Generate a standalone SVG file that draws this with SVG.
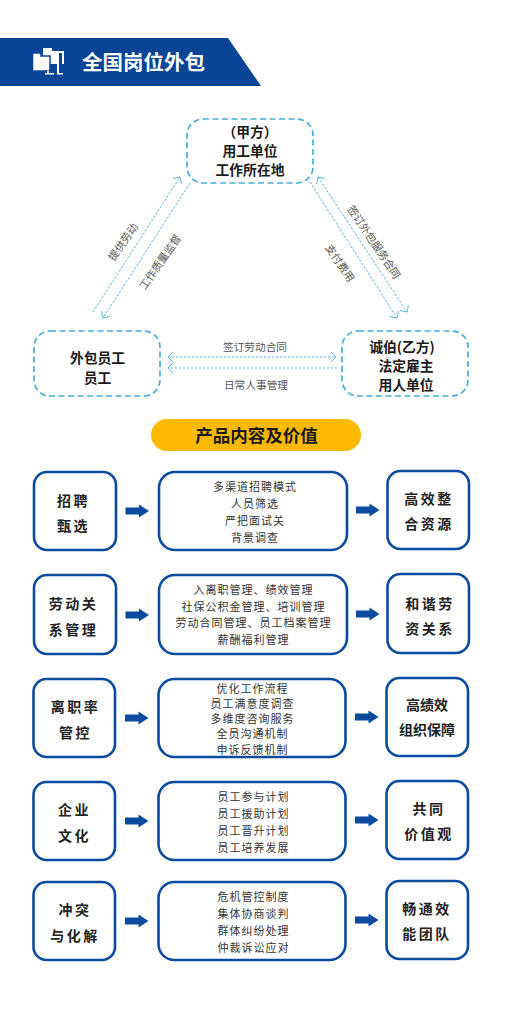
<svg xmlns="http://www.w3.org/2000/svg" width="512" height="1024" viewBox="0 0 512 1024">
<defs>
<marker id="a" markerUnits="userSpaceOnUse" markerWidth="12" markerHeight="14" refX="9" refY="7" orient="auto-start-reverse"><path d="M4 2L9 7L4 12" fill="none" stroke="#5cb4e4" stroke-width="1"/></marker>
<path id="ar" d="M0 -3.500H13.500V-6.500L23.500 0L13.500 6.500V3.500H0Z" fill="#0a4a9f"/>
</defs>
<style>
text{font-family:"Noto Sans CJK SC","Liberation Sans",sans-serif;text-anchor:middle}
.d{fill:#fff;stroke:#45ade0;stroke-width:1.700;stroke-dasharray:6 3.500}
.h{font-size:13.800px;font-weight:700;fill:#1a1a1a}
.l{font-size:10.700px;fill:#555}
.c{fill:none;stroke:#5cb4e4;stroke-width:1;stroke-dasharray:2.500 1.500}
.b{fill:#fff;stroke:#0a4a9f;stroke-width:2.600}
.s{font-size:14px;font-weight:700;fill:#222;letter-spacing:2.500px}
.n{letter-spacing:0}
.m{font-size:11px;fill:#333;letter-spacing:1px}
</style>
<rect width="512" height="1024" fill="#fff"/>
<g id="banner">
<path d="M0 38H228L261 86H0Z" fill="#0a4497"/>
<g id="icon">
<path d="M43 48H52V51H64V64H43Z" fill="#fff"/>
<path d="M57 64H59V73H63V74.500H57Z" fill="#fff"/>
<path d="M32.500 53H41V56H50V71H32.500Z" fill="#fff" stroke="#0a4497" stroke-width="1.500"/>
<path d="M59 53H62V64H59Z" fill="#0a4497"/>
<path d="M47 71H49V73H54V74.500H45V73H47Z" fill="#fff"/>
</g>
<text x="143.500" y="70" font-size="20.500" font-weight="700" fill="#fff">全国岗位外包</text>
</g>
<g id="connectors">
<path class="c" marker-end="url(#a)" d="M93 312L180 177"/>
<path class="c" marker-end="url(#a)" d="M190 183L103 318"/>
<path class="c" marker-start="url(#a)" marker-end="url(#a)" d="M318 177L407 312"/>
<path class="c" marker-end="url(#a)" d="M310 182L397 318"/>
<path class="c" marker-start="url(#a)" marker-end="url(#a)" d="M168 357H336"/>
<path class="c" marker-end="url(#a)" d="M337 368H168"/>
<text class="l" transform="translate(123 242) rotate(-55)" y="4">提供劳动</text>
<text class="l" transform="translate(160 262) rotate(-55)" y="4">工作质量监督</text>
<text class="l" transform="translate(374 242) rotate(56)" y="4">签订外包服务合同</text>
<text class="l" transform="translate(340 263) rotate(56)" y="4">支付费用</text>
<text class="l" x="255" y="351">签订劳动合同</text>
<text class="l" x="256" y="389">日常人事管理</text>
</g>
<g id="n1"><rect class="d" x="187" y="119" width="126" height="64" rx="16"/>
<text class="h" x="250" y="137">（甲方）</text><text class="h" x="250" y="156">用工单位</text><text class="h" x="250" y="175">工作所在地</text></g>
<g id="n2"><rect class="d" x="34" y="331" width="126" height="65" rx="16"/>
<text class="h" x="97.500" y="363">外包员工</text><text class="h" x="97.500" y="383">员工</text></g>
<g id="n3"><rect class="d" x="342" y="331" width="126" height="65" rx="16"/>
<text class="h" x="402" y="352">诚伯(乙方)</text><text class="h" x="406" y="371">法定雇主</text><text class="h" x="406" y="390">用人单位</text></g>
<g id="pill"><rect x="151" y="419" width="210" height="32" rx="16" fill="#fbb900"/>
<text x="256.500" y="442" font-size="17.500" font-weight="700" fill="#1a1a1a">产品内容及价值</text></g>

<g id="row1">
<rect class="b" x="34" y="472" width="82" height="78" rx="13"/>
<text class="s" x="73.500" y="506">招聘</text><text class="s" x="73.500" y="531">甄选</text>
<use href="#ar" x="125.500" y="511"/>
<rect class="b" x="159" y="472" width="188" height="78" rx="16"/>
<text class="m" x="255" y="491">多渠道招聘模式</text><text class="m" x="255" y="508">人员筛选</text><text class="m" x="255" y="525">严把面试关</text><text class="m" x="255" y="542">背景调查</text>
<use href="#ar" x="356" y="510"/>
<rect class="b" x="387.500" y="471" width="81.500" height="78" rx="13"/>
<text class="s" x="429" y="504">高效整</text><text class="s" x="429" y="529">合资源</text>
</g>
<g id="row2">
<rect class="b" x="34" y="575" width="82" height="79" rx="13"/>
<text class="s" x="73.500" y="609">劳动关</text><text class="s" x="73.500" y="635">系管理</text>
<use href="#ar" x="125.500" y="615"/>
<rect class="b" x="159" y="575" width="188" height="79" rx="16"/>
<text class="m" x="253.500" y="594">入离职管理、绩效管理</text><text class="m" x="253.500" y="611">社保公积金管理、培训管理</text><text class="m" x="253.500" y="627">劳动合同管理、员工档案管理</text><text class="m" x="253.500" y="644">薪酬福利管理</text>
<use href="#ar" x="356" y="614"/>
<rect class="b" x="387.500" y="574" width="81.500" height="79" rx="13"/>
<text class="s" x="430" y="609">和谐劳</text><text class="s" x="430" y="634">资关系</text>
</g>
<g id="row3">
<rect class="b" x="33.500" y="679" width="81.500" height="78" rx="13"/>
<text class="s" x="75.500" y="712">离职率</text><text class="s" x="75.500" y="738">管控</text>
<use href="#ar" x="125" y="718"/>
<rect class="b" x="158.500" y="679" width="187" height="78" rx="16"/>
<text class="m" x="252.500" y="692.500">优化工作流程</text><text class="m" x="252.500" y="708">员工满意度调查</text><text class="m" x="252.500" y="723">多维度咨询服务</text><text class="m" x="252.500" y="738">全员沟通机制</text><text class="m" x="252.500" y="753.500">申诉反馈机制</text>
<use href="#ar" x="355" y="717"/>
<rect class="b" x="386.500" y="678" width="81.500" height="78" rx="13"/>
<text class="s n" x="427" y="710">高绩效</text><text class="s n" x="427" y="735">组织保障</text>
</g>
<g id="row4">
<rect class="b" x="33.500" y="782" width="81.500" height="78" rx="13"/>
<text class="s" x="74.500" y="815">企业</text><text class="s" x="74.500" y="841">文化</text>
<use href="#ar" x="125" y="821"/>
<rect class="b" x="158.500" y="782" width="187" height="78" rx="16"/>
<text class="m" x="253.500" y="801">员工参与计划</text><text class="m" x="253.500" y="818">员工援助计划</text><text class="m" x="253.500" y="835">员工晋升计划</text><text class="m" x="253.500" y="852">员工培养发展</text>
<use href="#ar" x="355" y="820"/>
<rect class="b" x="386.500" y="781" width="81.500" height="78" rx="13"/>
<text class="s" x="429" y="814">共同</text><text class="s" x="429" y="839">价值观</text>
</g>
<g id="row5">
<rect class="b" x="33.500" y="882" width="81.500" height="78" rx="13"/>
<text class="s" x="75" y="915">冲突</text><text class="s" x="75" y="941">与化解</text>
<use href="#ar" x="125" y="921"/>
<rect class="b" x="158.500" y="882" width="187" height="78" rx="16"/>
<text class="m" x="253.500" y="901">危机管控制度</text><text class="m" x="253.500" y="918">集体协商谈判</text><text class="m" x="253.500" y="935">群体纠纷处理</text><text class="m" x="253.500" y="952">仲裁诉讼应对</text>
<use href="#ar" x="355" y="920"/>
<rect class="b" x="386.500" y="881" width="81.500" height="78" rx="13"/>
<text class="s" x="427" y="914">畅通效</text><text class="s" x="427" y="939">能团队</text>
</g>
</svg>
